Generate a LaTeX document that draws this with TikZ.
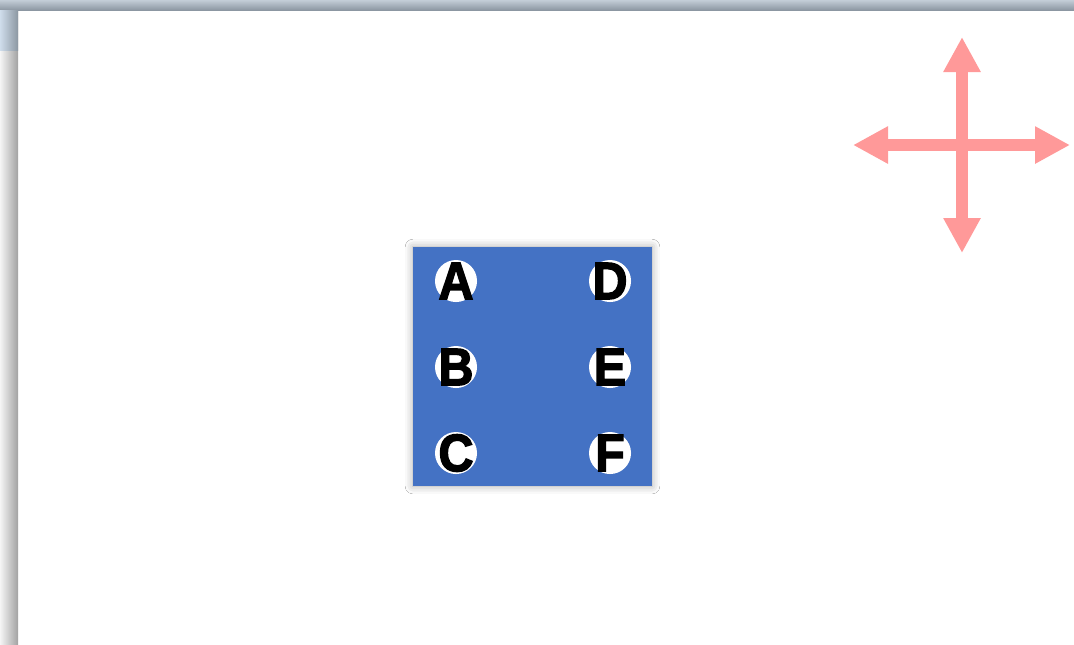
\documentclass[tikz,border=0pt]{standalone}
\usepackage{fontspec}
\newfontfamily\badgefont{Liberation Sans}[BoldFeatures={FakeBold=2.5, FakeStretch=0.92}]
\usepackage{xcolor}
\usepackage{tikz}
\usetikzlibrary{arrows.meta}
\usetikzlibrary{shadows.blur, positioning}
\definecolor{tileblue}{HTML}{4472C4}
\definecolor{crosspink}{HTML}{FF9999}
\definecolor{sidegray}{HTML}{A2A2A2}
\definecolor{topgray}{HTML}{8C97A2}
\definecolor{frametop}{HTML}{C3CDD7}
\definecolor{cornerblue}{HTML}{CFDDEB}

\begin{document}
\begin{tikzpicture}[
      x=0.01cm, y=-0.01cm,
      tile/.style={fill=tileblue, minimum width=2.39cm, minimum height=2.39cm, inner sep=0pt,
        blur shadow={shadow xshift=0pt, shadow yshift=0pt, shadow scale=1.0,
          shadow blur radius=2.2pt, shadow opacity=35}},
      badge/.style={circle, fill=white, minimum size=0.42cm, inner sep=-3pt,
        font=\badgefont\bfseries\fontsize{15}{15}\selectfont},
      crossarrow/.style={line width=0.12cm, crosspink,
        {Triangle[length=0.35cm, width=0.35cm]}-{Triangle[length=0.35cm, width=0.35cm]}}
    ]
    \useasboundingbox (0,0) rectangle (1074,644);
    \fill[white] (0,0) rectangle (1074,644);

    % Rand der Folie
    \shade[left color=gray!8, right color=sidegray] (0,0) rectangle (18,644);
    \shade[top color=frametop, bottom color=topgray] (0,0) rectangle (1074,10);
    \shade[left color=cornerblue, right color=topgray] (0,10) rectangle (18,50);

    % Blaues Feld mit Buchstaben
    \node[tile] (board) at (532.5,366.5) {};
    \foreach \l/\x/\y in {A/456/281, B/456/367, C/456/453, D/610/281, E/610/367, F/610/453}
      \node[badge] (badge\l) at (\x,\y) {\l};

    % Pfeilkreuz
    \coordinate (crossN) at (962,37);
    \coordinate (crossS) at (962,253);
    \coordinate (crossW) at (853,145);
    \coordinate (crossE) at (1070,145);
    \draw[crossarrow] (crossN) -- (crossS);
    \draw[crossarrow] (crossW) -- (crossE);
  \end{tikzpicture}
\end{document}
